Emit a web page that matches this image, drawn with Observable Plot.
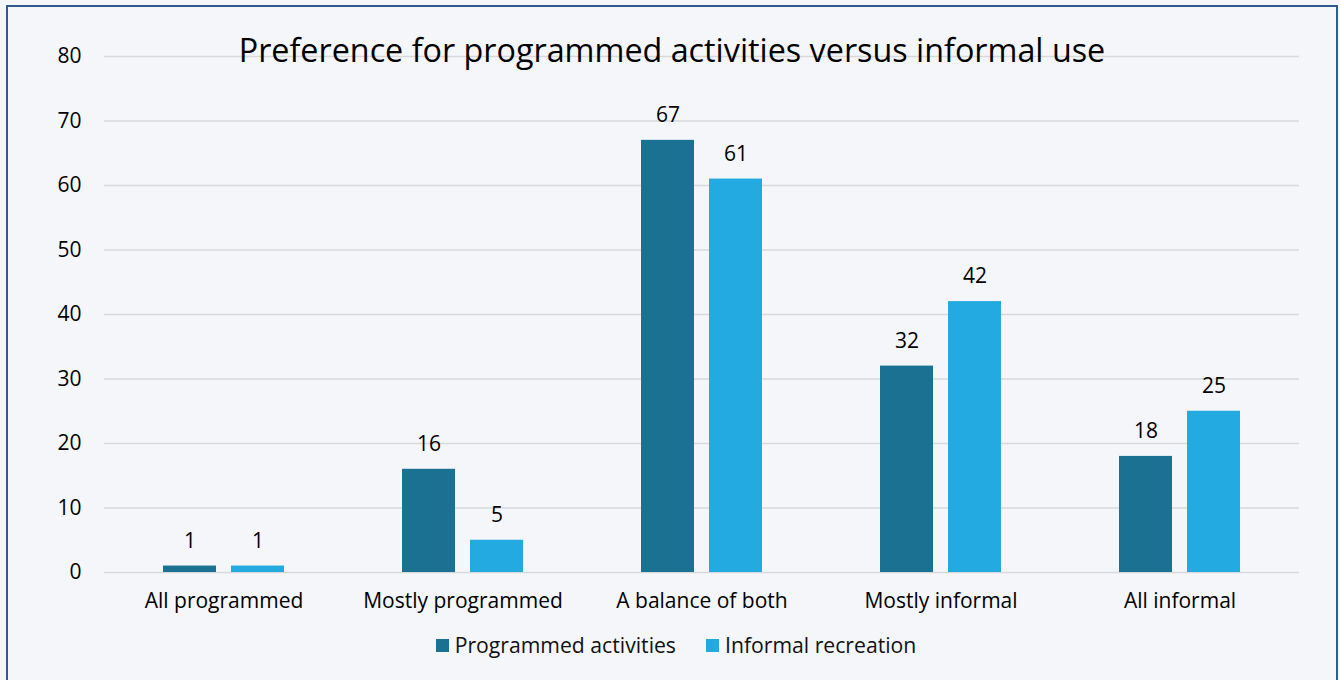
<!DOCTYPE html>
<html>
<head>
<meta charset="utf-8">
<script src="https://cdn.jsdelivr.net/npm/d3@7"></script>
<script src="https://cdn.jsdelivr.net/npm/@observablehq/plot@0.6"></script>
<style>
  html, body { margin: 0; padding: 0; overflow: hidden; background: #f4f6fa; }
  #wrap { position: relative; width: 1340px; height: 680px; background: #f4f6fa; font-family: "Open Sans", sans-serif; }
  #frame { position: absolute; left: 6px; top: 5px; width: 1332px; height: 720px; border: 2px solid #2f5a8d; box-sizing: border-box; }
  #chart { position: absolute; left: 0; top: 0; }
  #title { position: absolute; left: 0; width: 1344px; top: 28px; text-align: center; font-size: 32.3px; line-height: 42px; color: #000; white-space: nowrap; }
  #legend { position: absolute; left: 0; width: 1352px; top: 630px; display: flex; justify-content: center; gap: 30px; font-size: 21.2px; line-height: 30px; color: #111; }
  .item { display: flex; align-items: center; gap: 6px; }
  .sw { width: 13px; height: 13px; display: inline-block; }
</style>
</head>
<body>
<div id="wrap">
  <div id="frame"></div>
  <div id="chart"></div>
  <div id="title"></div>
  <div id="legend"></div>
</div>
<script>
const titleText = "Preference for programmed activities versus informal use";
const categories = ["All programmed", "Mostly programmed", "A balance of both", "Mostly informal", "All informal"];
const seriesNames = ["Programmed activities", "Informal recreation"];
const programmed = [1, 16, 67, 32, 18];
const informal = [1, 5, 61, 42, 25];
const seriesColors = ["#1b7191", "#22aae1"];
const yTicks = [0, 10, 20, 30, 40, 50, 60, 70, 80];

const rows = [];
categories.forEach((c, i) => {
  rows.push({category: c, series: seriesNames[0], value: programmed[i]});
  rows.push({category: c, series: seriesNames[1], value: informal[i]});
});

const chart = Plot.plot({
  width: 1340,
  height: 625,
  marginLeft: 104,
  marginRight: 41,
  marginTop: 56,
  marginBottom: 53,
  style: {background: "transparent", fontFamily: "Open Sans, sans-serif", fontSize: "21px", color: "#000"},
  fx: {domain: categories, padding: 0, label: null, tickSize: 0, tickPadding: 21, axis: "bottom"},
  x: {domain: seriesNames, paddingInner: 0.217, paddingOuter: 0.857, axis: null},
  y: {domain: [0, 80], ticks: yTicks, tickSize: 0, tickPadding: 23, label: null},
  color: {domain: seriesNames, range: seriesColors},
  marks: [
    Plot.ruleY(yTicks, {stroke: "#d9d9d9", strokeWidth: 1.6}),
    Plot.barY(rows, {fx: "category", x: "series", y: "value", fill: "series"}),
    Plot.text(rows, {fx: "category", x: "series", y: "value", text: d => String(d.value), dy: -25, fontSize: 21, fill: "#000"})
  ]
});
document.getElementById("chart").appendChild(chart);
document.getElementById("title").textContent = titleText;

const legend = document.getElementById("legend");
seriesNames.forEach((s, i) => {
  const item = document.createElement("div");
  item.className = "item";
  const sw = document.createElement("span");
  sw.className = "sw";
  sw.style.background = seriesColors[i];
  const t = document.createElement("span");
  t.textContent = s;
  item.appendChild(sw);
  item.appendChild(t);
  legend.appendChild(item);
});
</script>
</body>
</html>
